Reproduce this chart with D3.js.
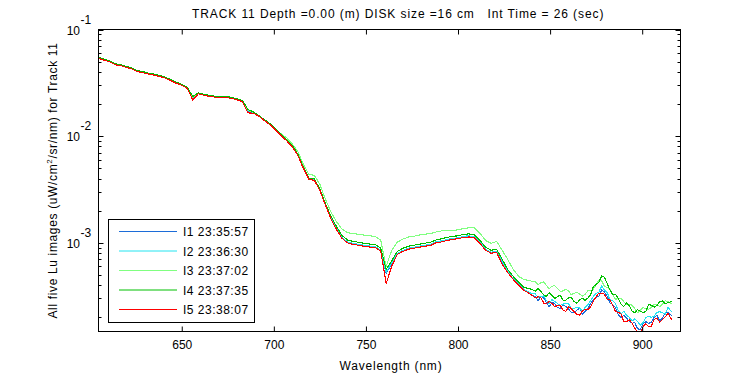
<!DOCTYPE html>
<html>
<head>
<meta charset="utf-8">
<script src="https://cdn.jsdelivr.net/npm/d3@7"></script>
<style>
  body { margin: 0; background: #fff; }
  svg text { font-family: "Liberation Sans", Arial, sans-serif; fill: #000; }
</style>
</head>
<body>
<svg id="chart" width="750" height="375"></svg>
<script>
// ----- data -----
const wavelength = [605, 608, 611, 614, 617, 620, 623, 626, 629, 632, 635, 638, 641, 644, 647, 650, 653, 656, 659, 662,
  665, 668, 671, 674, 677, 680, 683, 686, 689, 692, 695, 698, 701, 704, 707, 710, 713, 716, 719, 722,
  725, 728, 731, 734, 737, 740, 743, 746, 749, 752, 755, 758, 761, 764, 767, 770, 773, 776, 779, 782,
  785, 788, 791, 794, 797, 800, 803, 806, 809, 812, 815, 818, 821, 824, 827, 830, 833, 836, 839,
  842, 843.5, 845, 846.5, 848, 849.5, 851, 852.5, 854, 855.5, 857, 858.5, 860, 861.5, 863, 864.5, 866, 867.5,
  869, 870.5, 872, 873.5, 875, 876.5, 878, 879.5, 881, 882.5, 884, 885.5, 887, 888.5, 890, 891.5, 893, 894.5,
  896, 897.5, 899, 900.5, 902, 903.5, 905, 906.5, 908, 909.5, 911, 912.5, 914, 916];

// Lu in units of 1e-3 uW/cm^2/sr/nm
const lu1 = [53.4, 51.5, 49.6, 46.7, 45.7, 44.0, 42.7, 40.2, 39.3, 38.2, 37.3, 36.2, 35.0, 33.2, 31.3, 30.0, 28.0,
  22.6, 24.9, 24.2, 23.6, 23.2, 23.1, 23.0, 22.6, 21.9, 21.0, 17.1, 16.4, 15.3, 13.9, 12.8,
  11.3, 10.1, 9.03, 7.93, 6.60, 4.99, 3.93, 3.85, 3.10, 2.25, 1.67, 1.33, 1.10,
  0.996, 0.964, 0.947, 0.927, 0.911, 0.903, 0.838, 0.52, 0.633, 0.777, 0.829, 0.869, 0.888, 0.907, 0.927, 0.943,
  0.996, 1.017, 1.051, 1.074, 1.090, 1.121, 1.133, 1.109, 0.985, 0.847, 0.797, 0.811, 0.653, 0.526, 0.452, 0.397, 0.356, 0.332,
  0.310, 0.286, 0.313, 0.304, 0.275, 0.252, 0.275, 0.269, 0.246, 0.243, 0.261, 0.253, 0.240, 0.221, 0.222, 0.233,
  0.244, 0.214, 0.227, 0.239, 0.269, 0.294, 0.307, 0.315, 0.360, 0.344, 0.313, 0.273, 0.263, 0.247, 0.212, 0.197,
  0.208, 0.197, 0.182, 0.176, 0.178, 0.156, 0.154, 0.174, 0.182, 0.175, 0.180, 0.200, 0.208, 0.185, 0.197, 0.220,
  0.221, 0.207];
const lu2 = [53.9, 52.0, 50.1, 47.2, 46.2, 44.4, 43.1, 40.6, 39.7, 38.6, 37.7, 36.6, 35.4, 33.5, 31.6, 30.3, 28.3,
  23.0, 25.1, 24.4, 23.8, 23.4, 23.3, 23.2, 22.8, 22.1, 21.2, 17.4, 16.6, 15.5, 14.0, 12.9,
  11.4, 10.2, 9.12, 8.01, 6.67, 5.04, 3.97, 3.89, 3.13, 2.27, 1.71, 1.36, 1.12,
  1.02, 0.985, 0.968, 0.947, 0.931, 0.923, 0.856, 0.53, 0.647, 0.794, 0.847, 0.888, 0.908, 0.927, 0.947, 0.964,
  1.02, 1.04, 1.07, 1.10, 1.11, 1.15, 1.16, 1.13, 1.01, 0.866, 0.815, 0.829, 0.667, 0.538, 0.462, 0.406, 0.364, 0.339,
  0.331, 0.305, 0.313, 0.317, 0.287, 0.269, 0.293, 0.281, 0.269, 0.259, 0.266, 0.269, 0.267, 0.241, 0.242, 0.248,
  0.244, 0.228, 0.247, 0.261, 0.287, 0.314, 0.334, 0.344, 0.393, 0.359, 0.341, 0.291, 0.287, 0.269, 0.232, 0.215,
  0.227, 0.210, 0.199, 0.184, 0.194, 0.182, 0.168, 0.178, 0.198, 0.204, 0.200, 0.204, 0.222, 0.225, 0.220, 0.215,
  0.246, 0.226];
const lu3 = [54.2, 52.3, 50.3, 47.4, 46.4, 44.7, 43.3, 40.8, 39.9, 38.8, 37.9, 36.7, 35.5, 33.7, 31.8, 30.5, 28.4,
  23.2, 25.3, 24.6, 24.0, 23.5, 23.4, 23.3, 22.9, 22.2, 21.3, 17.5, 16.6, 15.5, 14.1, 13.0,
  11.5, 10.5, 9.63, 8.46, 7.19, 5.44, 4.38, 4.29, 3.53, 2.56, 1.94, 1.58, 1.34,
  1.24, 1.22, 1.20, 1.18, 1.16, 1.15, 1.06, 0.599, 0.85, 1.01, 1.08, 1.13, 1.15, 1.18, 1.20, 1.22,
  1.26, 1.29, 1.30, 1.30, 1.32, 1.36, 1.38, 1.38, 1.22, 1.05, 0.989, 1.03, 0.847, 0.697, 0.561, 0.482, 0.451, 0.440,
  0.429, 0.405, 0.423, 0.429, 0.397, 0.372, 0.389, 0.397, 0.372, 0.351, 0.353, 0.365, 0.353, 0.326, 0.335, 0.344,
  0.331, 0.315, 0.328, 0.353, 0.356, 0.365, 0.406, 0.446, 0.438, 0.391, 0.380, 0.369, 0.327, 0.294, 0.300, 0.303,
  0.281, 0.261, 0.263, 0.260, 0.241, 0.221, 0.232, 0.246, 0.241, 0.237, 0.248, 0.265, 0.264, 0.251, 0.267, 0.285,
  0.280, 0.269];
const lu4 = [54.6, 52.6, 50.7, 47.7, 46.7, 45.0, 43.6, 41.1, 40.2, 39.0, 38.1, 37.0, 35.8, 33.9, 32.0, 30.7, 28.6,
  23.6, 25.4, 24.7, 24.1, 23.7, 23.6, 23.5, 23.1, 22.4, 21.5, 17.8, 16.8, 15.6, 14.2, 13.1,
  11.6, 10.4, 9.30, 8.17, 6.80, 5.14, 4.05, 3.97, 3.19, 2.32, 1.78, 1.42, 1.17,
  1.06, 1.03, 1.01, 0.989, 0.972, 0.963, 0.894, 0.56, 0.675, 0.829, 0.885, 0.927, 0.947, 0.968, 0.989, 1.01,
  1.06, 1.09, 1.12, 1.15, 1.16, 1.20, 1.21, 1.18, 1.05, 0.904, 0.850, 0.865, 0.697, 0.561, 0.482, 0.424, 0.380, 0.370,
  0.353, 0.371, 0.349, 0.324, 0.313, 0.341, 0.320, 0.300, 0.313, 0.321, 0.290, 0.288, 0.304, 0.305, 0.281, 0.271,
  0.290, 0.302, 0.288, 0.303, 0.327, 0.390, 0.406, 0.427, 0.488, 0.475, 0.414, 0.361, 0.327, 0.327, 0.300, 0.266,
  0.252, 0.272, 0.257, 0.228, 0.221, 0.236, 0.227, 0.221, 0.226, 0.264, 0.259, 0.248, 0.258, 0.280, 0.285, 0.267,
  0.275, 0.280];
const lu5 = [53.4, 51.5, 49.6, 46.7, 45.7, 44.0, 42.7, 40.2, 39.3, 38.2, 37.3, 36.2, 35.0, 33.2, 31.3, 30.0, 28.0,
  21.8, 24.9, 24.2, 23.6, 23.2, 23.1, 23.0, 22.6, 21.9, 21.0, 16.5, 16.4, 15.3, 13.9, 12.8,
  11.3, 10.1, 9.03, 7.93, 6.60, 4.99, 3.93, 3.85, 3.10, 2.25, 1.67, 1.33, 1.10,
  0.996, 0.964, 0.947, 0.927, 0.911, 0.903, 0.838, 0.415, 0.60, 0.777, 0.829, 0.869, 0.888, 0.907, 0.927, 0.943,
  0.996, 1.017, 1.051, 1.074, 1.090, 1.121, 1.133, 1.109, 0.985, 0.847, 0.797, 0.811, 0.625, 0.526, 0.452, 0.397, 0.356, 0.332,
  0.304, 0.312, 0.306, 0.272, 0.269, 0.281, 0.269, 0.252, 0.257, 0.259, 0.234, 0.227, 0.250, 0.241, 0.227, 0.214,
  0.210, 0.228, 0.237, 0.234, 0.252, 0.282, 0.313, 0.337, 0.337, 0.329, 0.293, 0.291, 0.258, 0.227, 0.222, 0.215,
  0.182, 0.181, 0.190, 0.176, 0.157, 0.146, 0.141, 0.163, 0.174, 0.164, 0.165, 0.191, 0.195, 0.181, 0.189, 0.202,
  0.217, 0.190];

const seriesNames = ["I1 23:35:57", "I2 23:36:30", "I3 23:37:02", "I4 23:37:35", "I5 23:38:07"];
const seriesColors = ["#1c6cd8", "#22e4f0", "#80ff80", "#00c000", "#ff0000"];
const xTicks = [650, 700, 750, 800, 850, 900];
const yDecades = [1e-3, 1e-2, 1e-1];
const yExponents = ["-3", "-2", "-1"];

const titleText = "TRACK 11 Depth =0.00 (m) DISK size =16 cm   Int Time = 26 (sec)";


// ----- setup -----
const svg = d3.select("svg#chart");
const plot = {left: 98.5, right: 680.5, top: 29.5, bottom: 331.5};

const x = d3.scaleLinear().domain([604.8, 920.8]).range([plot.left, plot.right]);
const y = d3.scaleLog().domain([1.47e-4, 0.1]).range([plot.bottom, plot.top]);

svg.append("rect").attr("width", 750).attr("height", 375).attr("fill", "#fff");

svg.append("clipPath").attr("id", "plotclip")
   .append("rect")
   .attr("x", plot.left).attr("y", plot.top)
   .attr("width", plot.right - plot.left).attr("height", plot.bottom - plot.top);

// ----- lines -----
const series = [lu1, lu2, lu3, lu4, lu5];
const line = d3.line()
               .x((d, i) => x(wavelength[i]))
               .y(d => y(d * 1e-3));

svg.append("g").attr("clip-path", "url(#plotclip)")
   .selectAll("path").data(series)
   .join("path")
   .attr("d", d => line(d))
   .attr("fill", "none")
   .attr("stroke", (d, i) => seriesColors[i])
   .attr("stroke-width", 1.1)
   .attr("shape-rendering", "crispEdges");

// ----- axes -----
const axes = svg.append("g").attr("id", "axes");

axes.append("g")
    .attr("transform", "translate(0," + plot.bottom + ")")
    .call(d3.axisBottom(x).tickValues(xTicks).tickSizeInner(-5).tickSizeOuter(0).tickPadding(9))
    .call(g => g.select(".domain").remove());
axes.append("g")
    .attr("transform", "translate(0," + plot.top + ")")
    .call(d3.axisTop(x).tickValues(xTicks).tickSizeInner(-5).tickSizeOuter(0).tickFormat(""))
    .call(g => g.select(".domain").remove());

const minorTicks = y.ticks().filter(v => !yDecades.includes(v));
const sides = [{x0: plot.left, dir: 1}, {x0: plot.right, dir: -1}];
sides.forEach(s => {
    axes.append("g").selectAll("line.major").data(yDecades)
        .join("line")
        .attr("x1", s.x0).attr("x2", s.x0 + 5 * s.dir)
        .attr("y1", d => Math.round(y(d)) + 0.5).attr("y2", d => Math.round(y(d)) + 0.5)
        .attr("stroke", "#000");
    axes.append("g").selectAll("line.minor").data(minorTicks)
        .join("line")
        .attr("x1", s.x0).attr("x2", s.x0 + 3 * s.dir)
        .attr("y1", d => Math.round(y(d)) + 0.5).attr("y2", d => Math.round(y(d)) + 0.5)
        .attr("stroke", "#000");
});

axes.selectAll(".tick text").attr("font-size", 12).attr("font-family", "Liberation Sans, Arial, sans-serif");

// 10^n labels
const yLab = axes.append("g").selectAll("g").data(yDecades).join("g");
yLab.append("text")
    .attr("x", 80).attr("y", d => y(d) + 5)
    .attr("text-anchor", "end").attr("font-size", 12)
    .text("10");
yLab.append("text")
    .attr("x", 80.5).attr("y", (d, i) => y(d) - 6)
    .attr("font-size", 12)
    .text((d, i) => yExponents[i]);

// box
axes.append("rect")
    .attr("x", plot.left).attr("y", plot.top)
    .attr("width", plot.right - plot.left).attr("height", plot.bottom - plot.top)
    .attr("fill", "none").attr("stroke", "#000");

// ----- texts -----
svg.append("text")
   .attr("x", 192).attr("y", 18)
   .attr("font-size", 12).attr("letter-spacing", 0.9)
   .attr("xml:space", "preserve").style("white-space", "pre")
   .text(titleText);

svg.append("text")
   .attr("x", 391).attr("y", 370)
   .attr("text-anchor", "middle").attr("font-size", 12).attr("letter-spacing", 0.8)
   .text("Wavelength (nm)");

let ylabel = svg.append("text")
   .attr("transform", "translate(57," + (plot.top + plot.bottom) / 2 + ") rotate(-90)")
   .attr("text-anchor", "middle").attr("font-size", 12).attr("letter-spacing", 0.65);
ylabel.append("tspan").text("All five Lu images (uW/cm");
ylabel.append("tspan").attr("dy", -5).attr("font-size", 8).text("2");
ylabel.append("tspan").attr("dy", 5).text("/sr/nm) for Track 11");

// ----- legend -----
const legend = svg.append("g").attr("id", "legend");
legend.append("rect")
      .attr("x", 108.5).attr("y", 219.5).attr("width", 146).attr("height", 103)
      .attr("fill", "#fff").attr("stroke", "#000");
const rows = legend.selectAll("g.row").data(seriesNames)
      .join("g").attr("class", "row")
      .attr("transform", (d, i) => "translate(0," + (231.5 + i * 19.5) + ")");
rows.append("line")
    .attr("x1", 119).attr("x2", 177).attr("y1", 0).attr("y2", 0)
    .attr("stroke", (d, i) => seriesColors[i]);
rows.append("text")
    .attr("x", 183).attr("y", 4.5).attr("font-size", 12).attr("letter-spacing", 0.5)
    .text(d => d);
</script>
</body>
</html>
